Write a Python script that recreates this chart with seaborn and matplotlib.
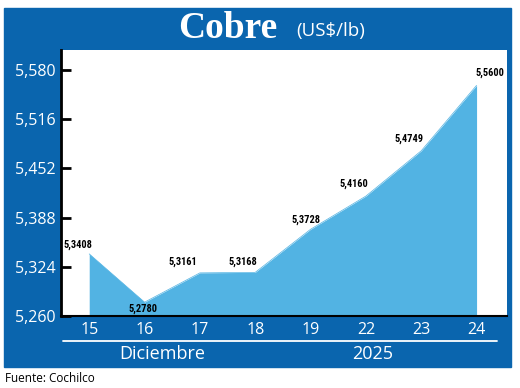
import matplotlib
matplotlib.use("Agg")
import matplotlib.pyplot as plt
from matplotlib.patches import Rectangle
from matplotlib.lines import Line2D
from matplotlib import font_manager
import seaborn as sns
import pandas as pd

# datos (US$/lb) - Cochilco
dias = ["15", "16", "17", "18", "19", "22", "23", "24"]
precios = [5.3408, 5.2780, 5.3161, 5.3168, 5.3728, 5.4160, 5.4749, 5.5600]
y_ticks = [5.260, 5.324, 5.388, 5.452, 5.516, 5.580]
mes = "Diciembre"
anio = "2025"

AZUL = "#0a65ae"
CELESTE = "#52b3e3"
W, H = 520, 388

sns.set_style("white")
plt.rcParams["font.family"] = ["Open Sans", "DejaVu Sans"]

# fuente angosta para las etiquetas, si existe
nombres = {f.name for f in font_manager.fontManager.ttflist}
angosta = [n for n in ["Liberation Sans Narrow", "Roboto Condensed", "Open Sans Condensed"]
           if n in nombres] + ["DejaVu Sans"]

df = pd.DataFrame({"pos": range(len(dias)), "precio": precios})

fig = plt.figure(figsize=(W / 100, H / 100), dpi=100)
fig.patch.set_facecolor("white")

# marco azul
fig.patches.append(Rectangle((4 / W, 1 - 367 / H), 507 / W, 359 / H,
                             transform=fig.transFigure, color=AZUL, zorder=0))

ax = fig.add_axes([61 / W, 1 - 316 / H, 446 / W, 266 / H])
ax.set_facecolor("white")
ax.set_zorder(2)

sns.lineplot(data=df, x="pos", y="precio", color=CELESTE, linewidth=0.5, ax=ax)
ax.fill_between(df["pos"], df["precio"], y_ticks[0], color=CELESTE, linewidth=0)

ax.set_xlim(-0.51, 7.55)
ax.set_ylim(5.26, 5.606)
ax.set_xticks(range(len(dias)))
ax.set_xticklabels(dias)
ax.set_yticks(y_ticks)
ax.set_yticklabels([f"{v:.3f}".replace(".", ",") for v in y_ticks])
ax.set_xlabel("")
ax.set_ylabel("")

for s in ["top", "right"]:
    ax.spines[s].set_visible(False)
ax.spines["left"].set_color("black")
ax.spines["left"].set_linewidth(2)
ax.spines["bottom"].set_color("black")
ax.spines["bottom"].set_linewidth(1.5)

ax.tick_params(axis="y", direction="in", length=7, width=2, color="black",
               labelcolor="white", labelsize=11.5, pad=4, left=True)
ax.tick_params(axis="x", length=0, labelcolor="white", labelsize=11.5, pad=4)

# etiquetas de valores
offsets = [(-11, 9), (-2, -7), (-17, 11), (-12, 11), (-5, 9), (-12, 12), (-12, 12), (13, 13)]
for i, (v, off) in enumerate(zip(precios, offsets)):
    ax.annotate(f"{v:.4f}".replace(".", ","), (i, v), xytext=off,
                textcoords="offset pixels", ha="center", va="center",
                fontsize=7.5, fontweight="bold", fontstretch="condensed",
                color="black", family=angosta)

# título
fig.text(228 / W, 1 - 29 / H, "Cobre", ha="center", va="center", color="white",
         fontsize=27, fontweight="bold", family=["Liberation Serif", "DejaVu Serif"])
fig.text(331 / W, 1 - 31 / H, "(US$/lb)", ha="center", va="center",
         color="white", fontsize=13.5)

# línea y textos inferiores
fig.add_artist(Line2D([63 / W, 497 / W], [1 - 341 / H, 1 - 341 / H],
                      transform=fig.transFigure, color="white", linewidth=1.3))
fig.text(162 / W, 1 - 354 / H, mes, ha="center", va="center", color="white", fontsize=13)
fig.text(373 / W, 1 - 354 / H, anio, ha="center", va="center", color="white", fontsize=13)

fig.text(5 / W, 1 - 378 / H, "Fuente: Cochilco", ha="left", va="center",
         color="black", fontsize=8.5)

fig.savefig("out.png", dpi=100, facecolor="white")
